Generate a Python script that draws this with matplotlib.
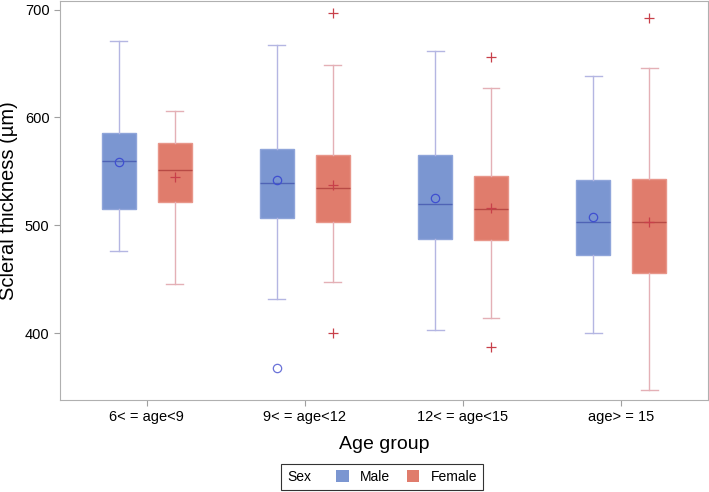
import matplotlib.pyplot as plt
from matplotlib.patches import Patch
from matplotlib.offsetbox import HPacker

plt.rcParams['font.family'] = ['Liberation Sans', 'DejaVu Sans']

groups = ['6< = age<9', '9< = age<12', '12< = age<15', 'age> = 15']

# box stats: whislo, q1, median, q3, whishi, mean
male_lo = [476, 432, 403, 400]
male_q1 = [515, 507, 487, 472]
male_med = [560, 539, 520, 503]
male_q3 = [586, 571, 565, 542]
male_hi = [671, 667, 662, 638]
male_mean = [558.5, 542, 525, 508]
male_out = [[], [368], [], []]

fem_lo = [446, 447, 414, 347]
fem_q1 = [522, 503, 486, 456]
fem_med = [551, 535, 515, 503]
fem_q3 = [576, 565, 546, 543]
fem_hi = [606, 649, 627, 646]
fem_mean = [545, 537.5, 516, 503]
fem_out = [[], [697, 400], [656, 387], [692]]

male_fill = '#7B96D1'
fem_fill = '#E07C6C'


def make_stats(lo, q1, med, q3, hi, mean, out):
    return [dict(whislo=lo[i], q1=q1[i], med=med[i], q3=q3[i], whishi=hi[i],
                 mean=mean[i], fliers=out[i]) for i in range(len(lo))]


fig = plt.figure(figsize=(7.09, 4.92), dpi=100)
ax = fig.add_axes([0.0846, 0.187, 0.914, 0.811])

pos = list(range(len(groups)))
off = 0.177
w = 0.215

ax.bxp(make_stats(male_lo, male_q1, male_med, male_q3, male_hi, male_mean, male_out),
       positions=[p - off for p in pos], widths=w, patch_artist=True, showmeans=True,
       capwidths=w * 0.5,
       boxprops=dict(facecolor=male_fill, edgecolor='#8FA5DA', linewidth=1),
       medianprops=dict(color='#4F63B5', linewidth=1),
       whiskerprops=dict(color='#B4B6E2', linewidth=1),
       capprops=dict(color='#B4B6E2', linewidth=1),
       meanprops=dict(marker='o', markerfacecolor='none', markeredgecolor='#3F4FD0',
                      markersize=6, markeredgewidth=0.9),
       flierprops=dict(marker='o', markerfacecolor='none', markeredgecolor='#6A72D8',
                       markersize=6, markeredgewidth=0.9))

ax.bxp(make_stats(fem_lo, fem_q1, fem_med, fem_q3, fem_hi, fem_mean, fem_out),
       positions=[p + off for p in pos], widths=w, patch_artist=True, showmeans=True,
       capwidths=w * 0.5,
       boxprops=dict(facecolor=fem_fill, edgecolor='#E8968A', linewidth=1),
       medianprops=dict(color='#B84A45', linewidth=1),
       whiskerprops=dict(color='#E4B0B6', linewidth=1),
       capprops=dict(color='#E4B0B6', linewidth=1),
       meanprops=dict(marker='+', markeredgecolor='#C8404A', markersize=7,
                      markeredgewidth=0.9),
       flierprops=dict(marker='+', markeredgecolor='#C8404A', markersize=7,
                       markeredgewidth=0.9))

ax.set_xlim(-0.55, 3.55)
ax.set_ylim(338, 708)
ax.set_xticks(pos)
ax.set_xticklabels(groups, fontsize=10)
ax.set_yticks([400, 500, 600, 700])
ax.tick_params(axis='both', labelsize=10.5, color='#A0A0A0', length=4)
for s in ax.spines.values():
    s.set_color('#B0B0B0')

ax.set_xlabel('Age group', fontsize=14, labelpad=8)
ax.set_ylabel('Scleral thickness (µm)', fontsize=14.5)
ax.yaxis.set_label_coords(-0.065, 0.5)

handles = [Patch(facecolor=male_fill, edgecolor='none', label='Male'),
           Patch(facecolor=fem_fill, edgecolor='none', label='Female')]
leg = fig.legend(handles=handles, loc='lower center', bbox_to_anchor=(0.539, 0.004),
                 ncol=2, fontsize=10, title='Sex', frameon=True, fancybox=False,
                 handlelength=0.9, handleheight=0.9, borderpad=0.45,
                 borderaxespad=0.0, columnspacing=1.2, handletextpad=0.8)
leg.get_frame().set_edgecolor('black')
leg.get_frame().set_linewidth(0.8)
leg.get_title().set_fontsize(10)
# put the title on the same row as the entries
box = leg._legend_box
box._children = [HPacker(children=[box._children[0], box._children[1]],
                         pad=0, sep=18, align='center')]

fig.savefig('out.png', dpi=100)
